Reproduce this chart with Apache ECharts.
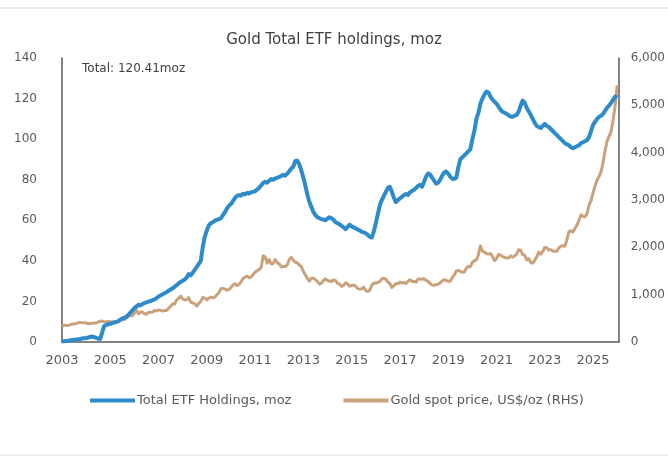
<!DOCTYPE html>
<html>
<head>
<meta charset="utf-8">
<script src="https://cdn.jsdelivr.net/npm/echarts@6/dist/echarts.min.js"></script>
<style>
html,body{margin:0;padding:0;background:#fff;}
#c{width:668px;height:459px;}
</style>
</head>
<body>
<div id="c"></div>
<script>
// Monthly observations, first point = start of 2003
const startYear = 2003;
const xTickLabels = ['2003','2005','2007','2009','2011','2013','2015','2017','2019','2021','2023','2025'];
const etfHoldings = [
 0.3,0.4,0.5,0.6,0.8,1.0,1.1,1.2,1.4,1.5,1.7,1.9,
 2.0,2.2,2.5,2.7,2.4,2.0,1.7,1.5,4.8,7.9,8.4,8.7,
 9.0,9.3,9.6,9.9,10.3,11.0,11.6,11.9,12.4,13.3,14.5,15.6,
 16.8,17.5,18.3,18.0,18.7,19.2,19.5,19.9,20.2,20.6,21.0,21.6,
 22.4,23.0,23.5,24.0,24.6,25.3,25.9,26.5,27.2,28.1,28.9,29.6,
 30.2,30.8,31.9,33.5,32.8,34.2,35.6,37.0,38.5,40.0,47.0,52.0,
 55.0,57.5,58.6,59.0,59.8,60.2,60.6,61.0,62.5,64.0,65.8,67.2,
 68.0,69.5,71.0,72.0,72.4,72.2,73.1,72.8,73.5,73.2,73.8,74.0,
 74.3,75.2,76.0,77.2,78.4,79.0,78.5,79.6,80.3,80.0,80.6,81.0,
 81.3,81.9,82.4,82.0,83.0,84.2,85.5,86.5,89.2,89.4,87.5,84.5,
 81.0,77.0,72.5,69.0,66.5,64.0,62.5,61.5,61.0,60.6,60.3,60.0,
 60.8,61.5,61.0,60.2,59.0,58.5,58.0,57.2,56.5,55.6,56.8,57.8,
 57.0,56.5,56.0,55.5,55.0,54.3,54.0,53.6,52.8,51.8,51.5,54.5,
 58.5,63.0,67.5,70.0,72.0,74.0,76.0,76.5,74.0,71.0,69.0,70.0,
 70.8,71.5,72.5,73.0,72.5,73.8,74.5,75.0,76.0,77.0,77.5,76.5,
 79.0,81.5,83.0,82.5,81.0,79.5,78.0,78.5,80.0,82.0,83.5,84.0,
 83.0,81.5,80.5,80.4,81.0,86.0,90.0,91.0,92.0,93.0,94.0,95.0,
 100.0,104.0,110.0,113.0,117.5,120.0,122.0,123.5,123.0,121.0,119.5,118.5,
 117.5,116.0,114.5,113.5,113.0,112.5,111.8,111.2,111.0,111.5,112.0,113.5,
 116.5,119.0,118.0,115.5,113.7,112.0,110.0,108.0,106.5,106.0,105.5,106.5,
 107.5,106.5,106.0,105.0,104.0,103.0,102.0,101.0,100.0,99.0,98.0,97.5,
 97.0,96.0,95.5,96.0,96.5,97.0,98.0,98.5,99.0,99.5,101.0,104.0,
 107.0,108.5,110.0,111.0,111.5,112.5,114.0,115.5,116.5,118.0,119.5,121.0,
 120.4
];
const goldPrice = [
 328,355,356,351,360,379,379,389,407,414,405,406,
 404,384,392,398,400,406,420,439,442,424,424,434,
 429,422,430,424,438,456,470,476,510,549,555,557,
 610,676,596,633,632,598,586,628,629,631,665,655,
 679,667,655,665,665,712,754,806,803,889,922,968,
 909,888,890,939,839,829,806,760,816,858,943,924,
 890,928,946,934,949,996,1043,1127,1134,1118,1095,1113,
 1148,1205,1232,1193,1215,1271,1343,1370,1391,1356,1372,1424,
 1474,1510,1529,1573,1820,1800,1665,1739,1652,1656,1742,1673,
 1650,1585,1596,1594,1630,1744,1790,1722,1685,1671,1627,1593,
 1487,1414,1343,1286,1347,1349,1316,1275,1222,1244,1300,1336,
 1299,1287,1279,1311,1296,1239,1222,1176,1200,1251,1227,1179,
 1198,1199,1181,1128,1117,1125,1159,1086,1068,1097,1199,1246,
 1242,1260,1276,1337,1341,1326,1267,1236,1152,1192,1234,1231,
 1267,1246,1260,1237,1283,1315,1280,1283,1265,1331,1331,1325,
 1335,1303,1282,1238,1202,1198,1215,1220,1250,1291,1320,1300,
 1285,1284,1359,1413,1500,1510,1495,1471,1480,1560,1597,1591,
 1683,1716,1732,1847,2030,1921,1900,1866,1858,1867,1808,1718,
 1760,1850,1834,1807,1785,1775,1777,1821,1790,1817,1856,1948,
 1937,1849,1836,1732,1764,1681,1664,1726,1797,1898,1855,1912,
 1999,1992,1942,1951,1919,1916,1916,1985,2030,2034,2024,2159,
 2331,2351,2326,2398,2470,2571,2690,2651,2648,2709,2894,2983,
 3150,3300,3420,3500,3600,3800,4050,4250,4350,4450,4700,5000,
 5420
];
const titleText = 'Gold Total ETF holdings, moz';
const totalNote = 'Total: 120.41moz';
const etfName = 'Total ETF Holdings, moz';
const goldName = 'Gold spot price, US$/oz (RHS)';

const toPairs = arr => arr.map((v, i) => [i / 12, v]);
const fontFam = '"DejaVu Sans", "Noto Sans", sans-serif';
const axisCol = '#595959';
const txtCol = '#595959';

const chart = echarts.init(document.getElementById('c'), null, {renderer: 'canvas'});
chart.setOption({
  animation: false,
  backgroundColor: '#ffffff',
  textStyle: {fontFamily: fontFam},
  title: {
    text: titleText, left: 'center', top: 28,
    textStyle: {fontFamily: fontFam, fontSize: 15, fontWeight: 'normal', color: '#404040'}
  },
  grid: {left: 62, right: 48, top: 58, bottom: 117, containLabel: false},
  legend: {
    left: 85, top: 389, itemWidth: 45, itemHeight: 4, itemGap: 52, icon: 'rect',
    textStyle: {fontFamily: fontFam, fontSize: 13, color: txtCol, padding: [0,0,0,-3]},
    data: [etfName, goldName]
  },
  xAxis: {
    type: 'value', min: 0, max: 23.06, interval: 2,
    axisLine: {show: true, lineStyle: {color: axisCol, width: 1.5}},
    axisTick: {show: false},
    splitLine: {show: false},
    axisLabel: {
      margin: 12, fontSize: 13, color: txtCol, showMaxLabel: false,
      formatter: v => { const k = Math.round(v / 2); return (Math.abs(v - 2 * k) < 1e-6 && xTickLabels[k]) ? xTickLabels[k] : ''; }
    }
  },
  yAxis: [
    {
      type: 'value', min: 0, max: 140, interval: 20,
      axisLine: {show: true, lineStyle: {color: axisCol, width: 1.5}},
      axisTick: {show: false}, splitLine: {show: false},
      axisLabel: {margin: 25, fontSize: 12, color: txtCol}
    },
    {
      type: 'value', min: 0, max: 6000, interval: 1000, position: 'right',
      axisLine: {show: true, lineStyle: {color: axisCol, width: 1.5}},
      axisTick: {show: false}, splitLine: {show: false},
      axisLabel: {margin: 12, fontSize: 12, color: txtCol,
        formatter: v => v.toLocaleString('en-US')}
    }
  ],
  series: [
    {
      name: etfName, type: 'line', yAxisIndex: 0, showSymbol: false, symbol: 'none', z: 3,
      data: toPairs(etfHoldings),
      itemStyle: {color: '#2E8BCB'},
      lineStyle: {color: '#2E8BCB', width: 4, join: 'round'}
    },
    {
      name: goldName, type: 'line', yAxisIndex: 1, showSymbol: false, symbol: 'none', z: 2,
      data: toPairs(goldPrice),
      itemStyle: {color: '#C9A27C'},
      lineStyle: {color: '#C9A27C', width: 3, join: 'round'}
    }
  ],
  graphic: [
    {type: 'line', shape: {x1: 0, y1: 8, x2: 668, y2: 8}, style: {stroke: '#d9d9d9', lineWidth: 1}},
    {type: 'line', shape: {x1: 0, y1: 455, x2: 668, y2: 455}, style: {stroke: '#e3e3e3', lineWidth: 1}},
    {type: 'text', left: 82, top: 63, style: {text: totalNote, fontFamily: fontFam, fontSize: 12, fill: '#404040'}}
  ]
});
</script>
</body>
</html>
